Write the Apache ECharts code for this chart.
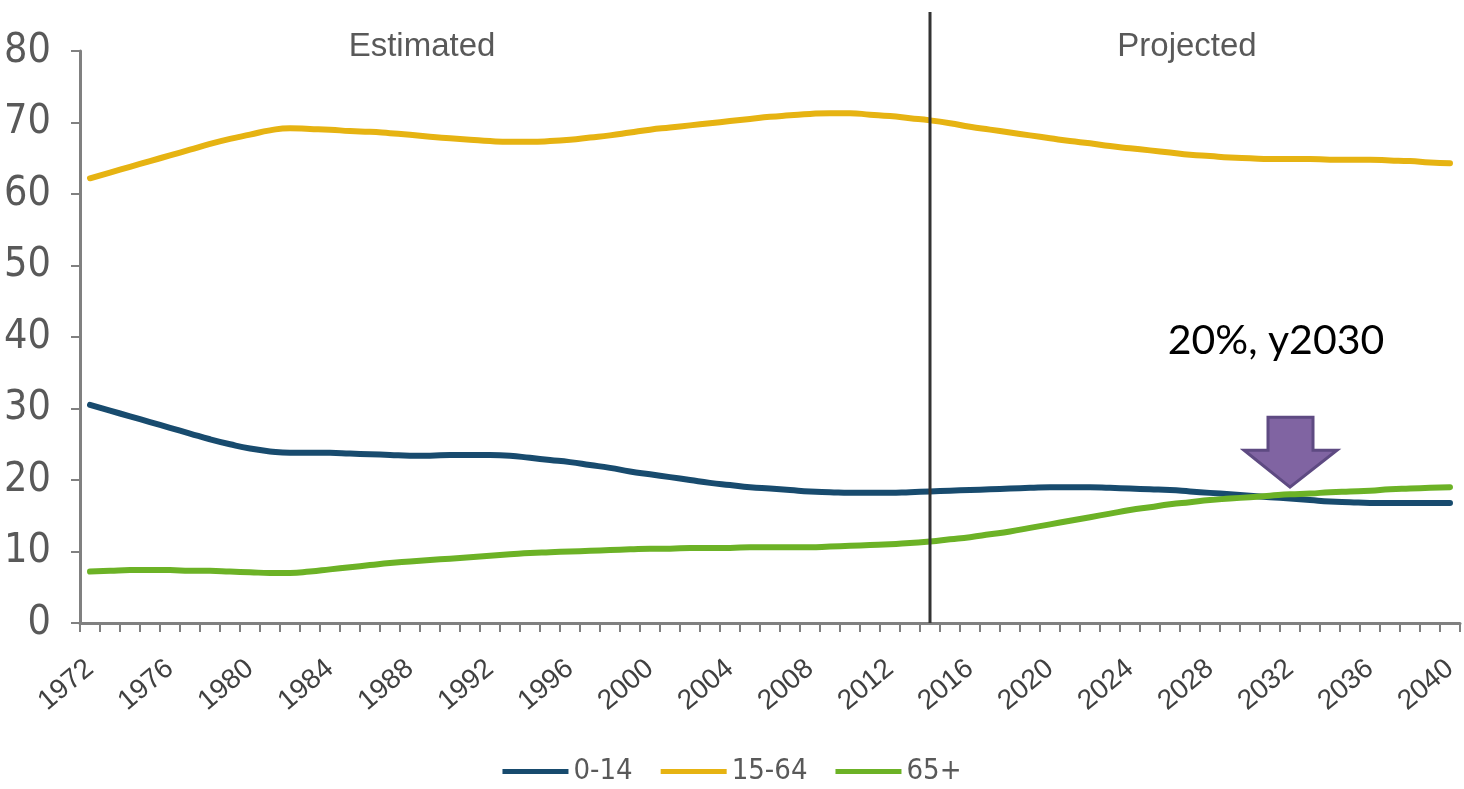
<!DOCTYPE html>
<html>
<head>
<meta charset="utf-8">
<title>Population by age group</title>
<script src="https://cdn.jsdelivr.net/npm/echarts@6/dist/echarts.min.js"></script>
<style>
  html, body { margin: 0; padding: 0; background: #ffffff; }
  #chart { width: 1464px; height: 789px; }
</style>
</head>
<body>
<div id="chart"></div>
<script>
// Share of population by age group (%), 1972–2040
const years = [];
for (let y = 1972; y <= 2040; y++) years.push(String(y));

const yTicks = [0, 10, 20, 30, 40, 50, 60, 70, 80];

const seriesNames = ['0-14', '15-64', '65+'];

const age0to14 = [
  30.5, 29.7, 28.9, 28.1, 27.3, 26.5, 25.7, 25.0, 24.4, 24.0,
  23.8, 23.8, 23.8, 23.7, 23.6, 23.5, 23.4, 23.4, 23.5, 23.5,
  23.5, 23.4, 23.1, 22.8, 22.5, 22.1, 21.7, 21.2, 20.8, 20.4,
  20.0, 19.6, 19.3, 19.0, 18.8, 18.6, 18.4, 18.3, 18.2, 18.2,
  18.2, 18.3, 18.4, 18.5, 18.6, 18.7, 18.8, 18.9, 19.0, 19.0,
  19.0, 18.9, 18.8, 18.7, 18.6, 18.4, 18.2, 18.0, 17.8, 17.6,
  17.4, 17.2, 17.0, 16.9, 16.8, 16.8, 16.8, 16.8, 16.8
];

const age15to64 = [
  62.2, 63.0, 63.8, 64.6, 65.4, 66.2, 67.0, 67.7, 68.3, 68.9,
  69.2, 69.1, 69.0, 68.8, 68.7, 68.5, 68.3, 68.0, 67.8, 67.6,
  67.4, 67.3, 67.3, 67.4, 67.6, 67.9, 68.2, 68.6, 69.0, 69.3,
  69.6, 69.9, 70.2, 70.5, 70.8, 71.0, 71.2, 71.3, 71.3, 71.1,
  70.9, 70.6, 70.3, 69.9, 69.4, 69.0, 68.6, 68.2, 67.8, 67.4,
  67.1, 66.7, 66.4, 66.1, 65.8, 65.5, 65.3, 65.1, 65.0, 64.9,
  64.9, 64.9, 64.8, 64.8, 64.8, 64.7, 64.6, 64.4, 64.3
];

const age65plus = [
  7.2, 7.3, 7.4, 7.4, 7.4, 7.3, 7.3, 7.2, 7.1, 7.0,
  7.0, 7.2, 7.5, 7.8, 8.1, 8.4, 8.6, 8.8, 9.0, 9.2,
  9.4, 9.6, 9.8, 9.9, 10.0, 10.1, 10.2, 10.3, 10.4, 10.4,
  10.5, 10.5, 10.5, 10.6, 10.6, 10.6, 10.6, 10.7, 10.8, 10.9,
  11.0, 11.2, 11.4, 11.7, 12.0, 12.4, 12.8, 13.3, 13.8, 14.3,
  14.8, 15.3, 15.8, 16.2, 16.6, 16.9, 17.2, 17.4, 17.6, 17.8,
  18.0, 18.1, 18.3, 18.4, 18.5, 18.7, 18.8, 18.9, 19.0
];

// Boundary between estimates and projections
const splitYear = '2014';
// Callout: where the 65+ share overtakes the 0-14 share
const calloutYear = '2032';
const calloutValue = 19.0;
const calloutText = '20%, y2030';
const periodLabels = ['Estimated', 'Projected'];

const colors = ['#184B6E', '#E6B312', '#6CB226'];
const narrowFont = "'Liberation Sans Narrow', 'Arial Narrow', 'DejaVu Sans Condensed', sans-serif";
const plainFont = "'Liberation Sans', Arial, sans-serif";
const axisGray = '#808080';
const textGray = '#595959';

const chart = echarts.init(document.getElementById('chart'), null, { renderer: 'canvas' });

const option = {
  animation: false,
  backgroundColor: '#ffffff',
  color: colors,
  grid: { left: 80, right: 4, top: 51, bottom: 166, containLabel: false },
  legend: {
    bottom: -2,
    left: 'center',
    icon: 'rect',
    itemWidth: 66,
    itemHeight: 5,
    itemGap: 28,
    textStyle: { fontFamily: narrowFont, fontSize: 29, color: textGray },
    data: seriesNames
  },
  xAxis: {
    type: 'category',
    data: years,
    boundaryGap: true,
    axisLine: { lineStyle: { color: axisGray, width: 3 } },
    axisTick: { show: true, interval: 0, length: 9, lineStyle: { color: axisGray, width: 2 } },
    axisLabel: {
      interval: 3,
      rotate: 40,
      margin: 42,
      fontFamily: plainFont,
      fontSize: 28,
      color: '#404040'
    },
    splitLine: { show: false }
  },
  yAxis: {
    type: 'value',
    min: yTicks[0],
    max: yTicks[yTicks.length - 1],
    interval: 10,
    axisLine: { show: true, lineStyle: { color: axisGray, width: 3 } },
    axisTick: { show: true, length: 9, lineStyle: { color: axisGray, width: 2 } },
    axisLabel: {
      margin: 29,
      fontFamily: narrowFont,
      fontSize: 41,
      color: textGray
    },
    splitLine: { show: false }
  },
  series: [
    { name: seriesNames[0], type: 'line', data: age0to14 },
    { name: seriesNames[1], type: 'line', data: age15to64 },
    { name: seriesNames[2], type: 'line', data: age65plus }
  ].map(s => Object.assign(s, {
    smooth: true,
    showSymbol: false,
    symbol: 'none',
    lineStyle: { width: 6, cap: 'round' },
    emphasis: { disabled: true }
  }))
};

chart.setOption(option);

// Overlay: divider line, period headings and the callout arrow, placed with the chart's own scales
const xSplit = chart.convertToPixel({ xAxisIndex: 0 }, splitYear);
const yZero = chart.convertToPixel({ yAxisIndex: 0 }, 0);
const tip = chart.convertToPixel({ gridIndex: 0 }, [calloutYear, calloutValue]);

const arrowPoints = [
  [tip[0], tip[1]],
  [tip[0] - 46, tip[1] - 37],
  [tip[0] - 22, tip[1] - 37],
  [tip[0] - 22, tip[1] - 70],
  [tip[0] + 23, tip[1] - 70],
  [tip[0] + 23, tip[1] - 37],
  [tip[0] + 47, tip[1] - 37]
];

chart.setOption({
  graphic: [
    {
      type: 'line',
      shape: { x1: xSplit, y1: 12, x2: xSplit, y2: yZero },
      style: { stroke: '#333333', lineWidth: 3 },
      z: 10
    },
    {
      type: 'text',
      x: 422, y: 47,
      style: {
        text: periodLabels[0],
        fontFamily: plainFont,
        fontSize: 33,
        fill: textGray,
        align: 'center',
        verticalAlign: 'middle'
      }
    },
    {
      type: 'text',
      x: 1187, y: 47,
      style: {
        text: periodLabels[1],
        fontFamily: plainFont,
        fontSize: 33,
        fill: textGray,
        align: 'center',
        verticalAlign: 'middle'
      }
    },
    {
      type: 'polygon',
      shape: { points: arrowPoints },
      style: { fill: '#8064A2', stroke: '#5E4A82', lineWidth: 3 },
      z: 20
    },
    {
      type: 'text',
      x: tip[0] - 14, y: tip[1] - 146,
      style: {
        text: calloutText,
        fontFamily: "Lato, 'Open Sans', sans-serif",
        fontSize: 41,
        fill: '#000000',
        align: 'center',
        verticalAlign: 'middle'
      },
      z: 20
    }
  ]
});
</script>
</body>
</html>
